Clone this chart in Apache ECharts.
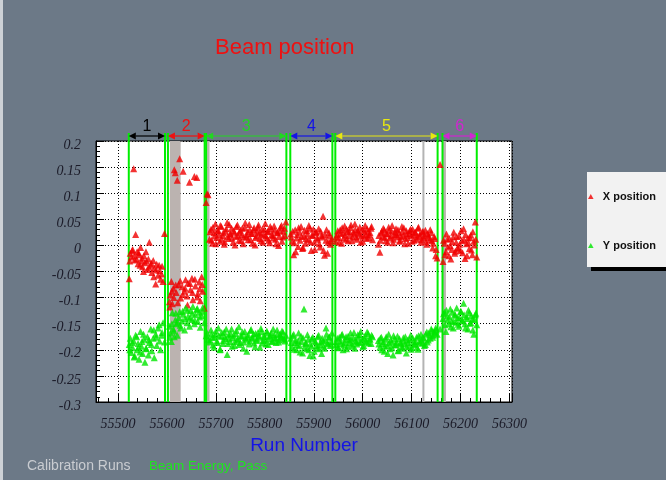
<!DOCTYPE html>
<html>
<head>
<meta charset="utf-8">
<script src="https://cdn.jsdelivr.net/npm/echarts@6/dist/echarts.min.js"></script>
<style>
  html, body { margin: 0; padding: 0; background: #6c7987; }
  #chart { width: 666px; height: 480px; }
</style>
</head>
<body>
<div id="chart"></div>
<script>
// Run numbers with their measured beam X and Y positions
const runs = [
  // period 1
  55523, 55525, 55527, 55530, 55532, 55534, 55536, 55539, 55541, 55543, 55546, 55548, 55550, 55553, 55555, 55557,
  55560, 55562, 55564, 55567, 55569, 55572, 55574, 55577, 55579, 55582, 55585, 55587, 55590, 55592, 55595,
  55524, 55529, 55533, 55538, 55542, 55545, 55549, 55552, 55558, 55563, 55568, 55573, 55578, 55584, 55589,
  // period 2
  55605, 55607, 55609, 55611, 55613, 55615, 55617, 55619, 55621, 55624, 55626, 55628, 55631, 55633, 55636, 55638,
  55641, 55643, 55646, 55648, 55651, 55653, 55656, 55658, 55661, 55663, 55666, 55668, 55671, 55673, 55676,
  55606, 55610, 55614, 55618, 55622, 55627, 55632, 55637, 55642, 55647, 55652, 55657, 55662, 55667, 55672,
  // period 3
  55680, 55682, 55684, 55687, 55690, 55693, 55696, 55699, 55702, 55705, 55708, 55711, 55714, 55717, 55720, 55723,
  55726, 55729, 55732, 55735, 55738, 55741, 55744, 55747, 55750, 55753, 55756, 55759, 55762, 55765, 55768, 55771,
  55774, 55777, 55780, 55783, 55786, 55789, 55792, 55795, 55798, 55801, 55804, 55807, 55810, 55813, 55816, 55819,
  55822, 55825, 55828, 55831, 55834, 55837, 55840, 55843,
  55688, 55691, 55694, 55697, 55700, 55703, 55706, 55709, 55712, 55715, 55718, 55721, 55724, 55727, 55730, 55733,
  55736, 55739, 55742, 55745, 55748, 55751, 55754, 55757, 55760, 55763, 55766, 55769, 55772, 55775, 55778, 55781,
  55784, 55787, 55790, 55793, 55796, 55799, 55802, 55805, 55808, 55811, 55814, 55817, 55820, 55823, 55826, 55829,
  55832, 55835, 55838, 55841,
  // period 4
  55853, 55856, 55859, 55862, 55865, 55868, 55871, 55874, 55877, 55880, 55883, 55886, 55889, 55892, 55895, 55898,
  55901, 55904, 55907, 55910, 55913, 55916, 55919, 55922, 55925, 55928, 55931, 55934, 55937,
  55854, 55857, 55860, 55863, 55866, 55869, 55872, 55875, 55878, 55881, 55884, 55887, 55890, 55893, 55896, 55899,
  55902, 55905, 55908, 55911, 55914, 55917, 55920, 55923, 55926, 55929, 55932, 55935,
  // period 5
  55945, 55948, 55951, 55954, 55957, 55960, 55963, 55966, 55969, 55972, 55975, 55978, 55981, 55984, 55987, 55990,
  55993, 55996, 55999, 56002, 56005, 56008, 56011, 56014, 56017, 56020,
  56032, 56035, 56038, 56041, 56044, 56047, 56050, 56053, 56056, 56059, 56062, 56065, 56068, 56071, 56074, 56077,
  56080, 56083, 56086, 56089, 56092, 56095, 56098, 56101, 56104, 56107, 56110, 56113, 56116, 56119, 56122, 56125,
  56128, 56131, 56134, 56137, 56140, 56143, 56146, 56149, 56152,
  55946, 55949, 55952, 55955, 55958, 55961, 55964, 55967, 55970, 55973, 55976, 55979, 55982, 55985, 55988, 55991,
  55994, 55997, 56000, 56003, 56006, 56009, 56012, 56015, 56018,
  56033, 56036, 56039, 56042, 56045, 56048, 56051, 56054, 56057, 56060, 56063, 56066, 56069, 56072, 56075, 56078,
  56081, 56084, 56087, 56090, 56093, 56096, 56099, 56102, 56105, 56108, 56111, 56114, 56117, 56120, 56123, 56126,
  56129, 56132, 56135, 56138, 56141, 56144, 56147, 56150,
  56158,
  // period 6
  56164, 56167, 56170, 56173, 56176, 56179, 56182, 56185, 56188, 56191, 56194, 56197, 56200, 56203, 56206, 56209,
  56212, 56215, 56218, 56221, 56224, 56227, 56230, 56233,
  56165, 56168, 56171, 56174, 56177, 56180, 56183, 56186, 56189, 56192, 56195, 56198, 56201, 56204, 56207, 56210,
  56213, 56216, 56219, 56222, 56225, 56228, 56231
];

const xPos = [
  -0.064, -0.015, -0.022, -0.008, 0.147, -0.028, 0.021, -0.012, -0.035, -0.018, -0.004, -0.030, -0.041, -0.020, -0.033, -0.012,
  -0.046, -0.026, 0.006, -0.038, -0.052, -0.029, -0.044, -0.074, -0.036, -0.057, -0.048, -0.065, -0.040, -0.069, 0.023,
  -0.030, -0.010, -0.020, -0.026, -0.014, -0.038, -0.024, -0.050, -0.030, -0.042, -0.034, -0.060, -0.047, -0.038, -0.055,

  -0.108, -0.095, -0.069, -0.112, -0.082, 0.145, 0.139, -0.090, 0.125, -0.075, 0.166, -0.101, -0.079, 0.142, -0.088, -0.066,
  -0.097, -0.072, 0.121, -0.085, -0.063, -0.104, 0.132, -0.078, 0.130, -0.092, -0.070, -0.106, -0.060, -0.088, -0.120,
  -0.118, -0.088, -0.100, -0.076, -0.110, -0.068, -0.094, -0.082, -0.114, -0.073, -0.090, -0.065, -0.099, -0.083, -0.075,

  0.082, 0.099, 0.097, 0.012, 0.031, 0.004, 0.024, 0.041, 0.015, 0.028, 0.008, 0.036, 0.019, 0.002, 0.027, 0.044,
  0.013, 0.022, 0.033, 0.006, 0.025, 0.017, 0.039, 0.010, 0.029, 0.021, 0.003, 0.034, 0.016, 0.026, 0.040, 0.011,
  0.023, 0.030, 0.001, 0.018, 0.035, 0.024, 0.009, 0.031, 0.020, 0.042, 0.014, 0.027, 0.005, 0.032, 0.019, 0.037,
  0.012, 0.025, 0.000, 0.028, 0.038, 0.016, 0.033, 0.045,
  0.026, 0.010, 0.035, 0.018, 0.003, 0.029, 0.021, 0.038, 0.012, 0.024, 0.007, 0.032, 0.017, 0.040, 0.022, 0.014,
  0.028, 0.001, 0.036, 0.019, 0.025, 0.009, 0.033, 0.016, 0.043, 0.020, 0.011, 0.030, 0.023, 0.004, 0.034, 0.015,
  0.027, 0.039, 0.013, 0.022, 0.006, 0.031, 0.018, 0.026, 0.010, 0.036, 0.021, 0.014, 0.029, 0.003, 0.024, 0.017,
  0.035, 0.008, 0.027, 0.019,

  0.022, 0.008, -0.018, 0.030, 0.014, -0.002, 0.025, 0.036, -0.006, 0.018, 0.004, 0.028, 0.011, 0.033, -0.010, 0.020,
  0.006, 0.026, 0.015, 0.032, -0.003, 0.019, 0.056, -0.019, 0.010, -0.015, 0.024, 0.002, 0.013,
  0.016, 0.027, 0.005, -0.012, 0.021, 0.034, 0.010, 0.017, -0.004, 0.029, 0.013, 0.022, 0.038, 0.007, 0.019, 0.031,
  -0.008, 0.024, 0.012, 0.003, 0.027, 0.016, -0.010, 0.021, 0.030, 0.006, 0.018, 0.009,

  0.008, 0.021, 0.015, 0.030, 0.004, 0.024, 0.037, 0.012, 0.027, 0.019, 0.034, 0.009, 0.025, 0.041, 0.016, 0.029,
  0.022, 0.006, 0.031, 0.018, 0.038, 0.013, 0.026, 0.020, 0.033, 0.011,
  0.002, -0.013, 0.024, 0.017, 0.030, 0.009, 0.022, 0.035, 0.014, 0.027, 0.005, 0.020, 0.032, 0.016, 0.024, 0.010,
  0.036, 0.019, 0.003, 0.028, 0.015, 0.023, 0.031, 0.008, 0.021, 0.026, 0.012, 0.033, 0.018, 0.006, 0.025, 0.014,
  0.029, 0.002, 0.020, 0.011, 0.024, -0.005, 0.017, -0.020, -0.024,
  0.017, 0.028, 0.006, 0.023, 0.034, 0.014, 0.020, 0.031, 0.009, 0.026, 0.039, 0.016, 0.022, 0.030, 0.012, 0.025,
  0.035, 0.018, 0.008, 0.028, 0.021, 0.032, 0.015, 0.024, 0.036,
  0.019, 0.010, 0.027, 0.033, 0.015, 0.023, 0.006, 0.029, 0.018, 0.038, 0.012, 0.025, 0.021, 0.030, 0.008, 0.017,
  0.026, 0.034, 0.013, 0.022, 0.004, 0.028, 0.019, 0.031, 0.010, 0.024, 0.016, 0.035, 0.022, 0.011, 0.027, 0.018,
  0.007, 0.023, 0.015, 0.030, 0.009, 0.004, 0.013, -0.008,
  0.155,

  -0.031, 0.004, -0.012, 0.012, -0.020, 0.000, -0.008, 0.016, -0.015, 0.006, -0.004, 0.018, -0.010, 0.009, 0.032, -0.025,
  0.003, 0.014, -0.006, 0.020, -0.018, 0.008, 0.045, -0.022,
  0.010, -0.018, 0.022, -0.003, 0.013, -0.026, 0.007, 0.025, -0.011, 0.017, -0.007, 0.002, 0.028, -0.014, 0.011, 0.021,
  -0.020, 0.005, 0.015, -0.009, 0.026, 0.001, 0.012
];

const yPos = [
  -0.190, -0.178, -0.205, -0.196, -0.183, -0.212, -0.172, -0.200, -0.188, -0.218, -0.165, -0.193, -0.207, -0.180, -0.224, -0.197,
  -0.175, -0.210, -0.186, -0.160, -0.202, -0.178, -0.215, -0.170, -0.192, -0.158, -0.183, -0.200, -0.167, -0.148, -0.185,
  -0.200, -0.186, -0.214, -0.175, -0.195, -0.204, -0.184, -0.170, -0.198, -0.181, -0.190, -0.162, -0.176, -0.152, -0.172,

  -0.155, -0.168, -0.184, -0.129, -0.160, -0.175, -0.143, -0.150, -0.172, -0.138, -0.127, -0.158, -0.145, -0.132, -0.162, -0.120,
  -0.148, -0.136, -0.155, -0.125, -0.142, -0.117, -0.150, -0.133, -0.123, -0.146, -0.128, -0.157, -0.135, -0.119, -0.148,
  -0.176, -0.150, -0.164, -0.130, -0.147, -0.153, -0.126, -0.140, -0.124, -0.139, -0.130, -0.144, -0.121, -0.137, -0.126,

  -0.173, -0.168, -0.180, -0.185, -0.162, -0.176, -0.195, -0.170, -0.183, -0.158, -0.200, -0.174, -0.188, -0.166, -0.179, -0.209,
  -0.171, -0.184, -0.160, -0.177, -0.192, -0.169, -0.181, -0.156, -0.186, -0.173, -0.197, -0.165, -0.180, -0.175, -0.189, -0.163,
  -0.178, -0.170, -0.194, -0.182, -0.167, -0.176, -0.159, -0.187, -0.172, -0.181, -0.164, -0.190, -0.174, -0.168, -0.183, -0.171,
  -0.178, -0.162, -0.185, -0.170, -0.176, -0.166, -0.180, -0.172,
  -0.181, -0.170, -0.191, -0.176, -0.164, -0.186, -0.173, -0.199, -0.167, -0.182, -0.175, -0.160, -0.188, -0.178, -0.169, -0.193,
  -0.172, -0.184, -0.163, -0.179, -0.190, -0.174, -0.166, -0.185, -0.177, -0.203, -0.171, -0.183, -0.161, -0.176, -0.187, -0.169,
  -0.180, -0.173, -0.195, -0.165, -0.182, -0.175, -0.189, -0.168, -0.179, -0.172, -0.184, -0.160, -0.177, -0.186, -0.170, -0.181,
  -0.174, -0.164, -0.178, -0.183,

  -0.178, -0.195, -0.170, -0.186, -0.200, -0.182, -0.192, -0.174, -0.206, -0.122, -0.188, -0.198, -0.180, -0.211, -0.193, -0.176,
  -0.203, -0.185, -0.196, -0.172, -0.190, -0.207, -0.183, -0.197, -0.158, -0.187, -0.175, -0.192, -0.168,
  -0.186, -0.173, -0.199, -0.181, -0.190, -0.168, -0.204, -0.184, -0.177, -0.195, -0.186, -0.171, -0.200, -0.189, -0.179, -0.212,
  -0.183, -0.192, -0.175, -0.198, -0.185, -0.178, -0.193, -0.181, -0.170, -0.189, -0.176, -0.184,

  -0.190, -0.178, -0.196, -0.183, -0.172, -0.200, -0.186, -0.175, -0.193, -0.181, -0.168, -0.189, -0.177, -0.197, -0.184, -0.171,
  -0.186, -0.165, -0.180, -0.192, -0.173, -0.185, -0.169, -0.178, -0.188, -0.175,
  -0.182, -0.195, -0.176, -0.188, -0.203, -0.180, -0.192, -0.170, -0.198, -0.185, -0.210, -0.179, -0.190, -0.174, -0.201, -0.186,
  -0.194, -0.177, -0.189, -0.206, -0.181, -0.193, -0.172, -0.196, -0.184, -0.188, -0.176, -0.199, -0.183, -0.170, -0.187, -0.178,
  -0.190, -0.166, -0.181, -0.172, -0.160, -0.176, -0.165, -0.158, -0.170,
  -0.184, -0.195, -0.176, -0.188, -0.170, -0.191, -0.180, -0.198, -0.174, -0.186, -0.179, -0.193, -0.167, -0.182, -0.189, -0.176,
  -0.171, -0.185, -0.194, -0.178, -0.183, -0.166, -0.187, -0.180, -0.172,
  -0.189, -0.178, -0.200, -0.184, -0.193, -0.175, -0.207, -0.187, -0.181, -0.196, -0.173, -0.191, -0.185, -0.202, -0.179, -0.188,
  -0.197, -0.183, -0.175, -0.194, -0.186, -0.180, -0.199, -0.177, -0.190, -0.184, -0.195, -0.173, -0.187, -0.181, -0.176, -0.192,
  -0.170, -0.185, -0.168, -0.178, -0.163, -0.172, -0.168, -0.162,
  -0.160,

  -0.140, -0.128, -0.165, -0.135, -0.150, -0.122, -0.145, -0.158, -0.132, -0.147, -0.138, -0.155, -0.126, -0.143, -0.111, -0.150,
  -0.136, -0.160, -0.129, -0.148, -0.141, -0.170, -0.133, -0.152,
  -0.131, -0.152, -0.124, -0.143, -0.137, -0.156, -0.128, -0.146, -0.134, -0.120, -0.151, -0.139, -0.127, -0.145, -0.133, -0.158,
  -0.140, -0.124, -0.149, -0.135, -0.162, -0.142, -0.130
];

// Run periods (first and last run of each), their labels, and calibration runs
const periodBounds = [[55522, 55596], [55602, 55677], [55680, 55844], [55852, 55938], [55944, 56153], [56163, 56233]];
const periodLabels = ['1', '2', '3', '4', '5', '6'];
const calibBands = [[55606, 55628], [55682, 55687], [56164, 56170]];
const calibLines = [56124];

// Axis ranges
const X_MIN = 55455, X_MAX = 56305;
const Y_MIN = -0.3, Y_MAX = 0.2;

const periodColors = ['#000000', '#ee1111', '#22d622', '#1414e6', '#e8e810', '#d026d0'];

const xData = runs.map((r, i) => [r, xPos[i]]);
const yData = runs.map((r, i) => [r, yPos[i]]);
const boundaryData = [];
periodBounds.forEach(b => { boundaryData.push([b[0]]); boundaryData.push([b[1]]); });
const periodData = periodBounds.map((b, i) => [b[0], b[1], i]);

function renderBand(params, api) {
  const a = api.coord([api.value(0), Y_MAX]);
  const b = api.coord([api.value(1), Y_MIN]);
  return { type: 'rect', shape: { x: a[0], y: a[1], width: b[0] - a[0], height: b[1] - a[1] },
           style: { fill: '#bbb3b0' } };
}

function renderCalibLine(params, api) {
  const a = api.coord([api.value(0), Y_MAX]);
  const b = api.coord([api.value(0), Y_MIN]);
  return { type: 'line', shape: { x1: a[0], y1: a[1], x2: b[0], y2: b[1] },
           style: { stroke: '#b4b4b4', lineWidth: 2 } };
}

function renderBoundary(params, api) {
  const a = api.coord([api.value(0), Y_MAX]);
  const b = api.coord([api.value(0), Y_MIN]);
  return { type: 'line', shape: { x1: a[0], y1: a[1] - 8, x2: b[0], y2: b[1] },
           style: { stroke: '#00ee00', lineWidth: 2 } };
}

function renderPeriod(params, api) {
  const i = api.value(2);
  const a = api.coord([api.value(0), Y_MAX]);
  const b = api.coord([api.value(1), Y_MAX]);
  const y = a[1] - 5;
  const col = periodColors[i];
  const h = 7, w = 3.5;
  return {
    type: 'group',
    children: [
      { type: 'line', shape: { x1: a[0] + h, y1: y, x2: b[0] - h, y2: y }, style: { stroke: col, lineWidth: 1.2 } },
      { type: 'polygon', shape: { points: [[a[0], y], [a[0] + h, y - w], [a[0] + h, y + w]] }, style: { fill: col } },
      { type: 'polygon', shape: { points: [[b[0], y], [b[0] - h, y - w], [b[0] - h, y + w]] }, style: { fill: col } },
      { type: 'text', x: (a[0] + b[0]) / 2, y: y - 9,
        style: { text: periodLabels[i], fill: col, font: '16px "Liberation Sans"', align: 'center', verticalAlign: 'middle' } }
    ]
  };
}

const chart = echarts.init(document.getElementById('chart'), null, { renderer: 'canvas' });

const labelFont = { color: '#1b1b28', fontFamily: 'Liberation Serif', fontStyle: 'italic', fontSize: 14 };

chart.setOption({
  animation: false,
  backgroundColor: '#6c7987',
  title: {
    text: 'Beam position', left: 215, top: 37, padding: 0,
    textStyle: { color: '#ee1111', fontSize: 22, fontWeight: 'normal', fontFamily: 'Liberation Sans' }
  },
  legend: {
    data: ['X position', 'Y position'],
    orient: 'vertical', left: 587, top: 172,
    icon: 'path://M5,0L10,9L0,9Z', itemWidth: 14, itemHeight: 5, itemGap: 38,
    padding: [19, 14, 16, 1],
    backgroundColor: '#f2f2f2',
    shadowColor: '#000000', shadowOffsetX: 4, shadowOffsetY: 4, shadowBlur: 0,
    textStyle: { fontFamily: 'Liberation Sans', fontWeight: 'bold', fontSize: 11, color: '#111111' }
  },
  grid: {
    left: 96, top: 141, width: 416, height: 261,
    show: true, backgroundColor: '#ffffff', borderColor: '#000000', borderWidth: 1
  },
  xAxis: {
    type: 'value', min: X_MIN, max: X_MAX, splitNumber: 8, minInterval: 100, maxInterval: 100,
    name: 'Run Number', nameLocation: 'middle', nameGap: 32,
    nameTextStyle: { color: '#1414e6', fontSize: 19, fontFamily: 'Liberation Sans' },
    axisLine: { show: true, onZero: false, lineStyle: { color: '#000000', width: 1 } },
    axisTick: { show: true, inside: true, length: 8, lineStyle: { color: '#000000' } },
    minorTick: { show: true, splitNumber: 5, length: 4, lineStyle: { color: '#000000' } },
    axisLabel: Object.assign({ showMinLabel: false, showMaxLabel: false, margin: 15,
                               formatter: v => String(v) }, labelFont),
    splitLine: { show: true, lineStyle: { color: '#000000', type: [1, 2], width: 1 } }
  },
  yAxis: {
    type: 'value', min: Y_MIN, max: Y_MAX, interval: 0.05,
    axisLine: { show: true, onZero: false, lineStyle: { color: '#000000', width: 1 } },
    axisTick: { show: true, inside: true, length: 8, lineStyle: { color: '#000000' } },
    minorTick: { show: true, splitNumber: 5, length: 4, lineStyle: { color: '#000000' } },
    axisLabel: Object.assign({ margin: 15, verticalAlign: 'top', lineHeight: 8 }, labelFont),
    splitLine: { show: true, lineStyle: { color: '#000000', type: [1, 2], width: 1 } }
  },
  graphic: [
    { type: 'rect', left: 0, top: 0, shape: { width: 3, height: 480 }, style: { fill: '#cdd1d6' } },
    { type: 'text', left: 27, top: 459, style: { text: 'Calibration Runs', fill: '#c9ccd1', font: '14px "Liberation Sans"' } },
    { type: 'text', left: 149, top: 459, style: { text: 'Beam Energy, Pass', fill: '#1ee61e', font: '13.5px "Liberation Sans"' } }
  ],
  series: [
    { type: 'custom', name: 'calib', silent: true, clip: false, z: 1, renderItem: renderBand,
      encode: { x: [0, 1] }, data: calibBands },
    { type: 'custom', name: 'calibLine', silent: true, clip: false, z: 1, renderItem: renderCalibLine,
      encode: { x: 0 }, data: calibLines.map(r => [r]) },
    { type: 'custom', name: 'bounds', silent: true, clip: false, z: 2, renderItem: renderBoundary,
      encode: { x: 0 }, data: boundaryData },
    { name: 'X position', type: 'scatter', symbol: 'triangle', symbolSize: 7, z: 3,
      itemStyle: { color: '#f00000' }, data: xData },
    { name: 'Y position', type: 'scatter', symbol: 'triangle', symbolSize: 7, z: 3,
      itemStyle: { color: '#00e600' }, data: yData },
    { type: 'custom', name: 'periods', silent: true, clip: false, z: 4, renderItem: renderPeriod,
      encode: { x: [0, 1] }, data: periodData }
  ]
});
</script>
</body>
</html>
